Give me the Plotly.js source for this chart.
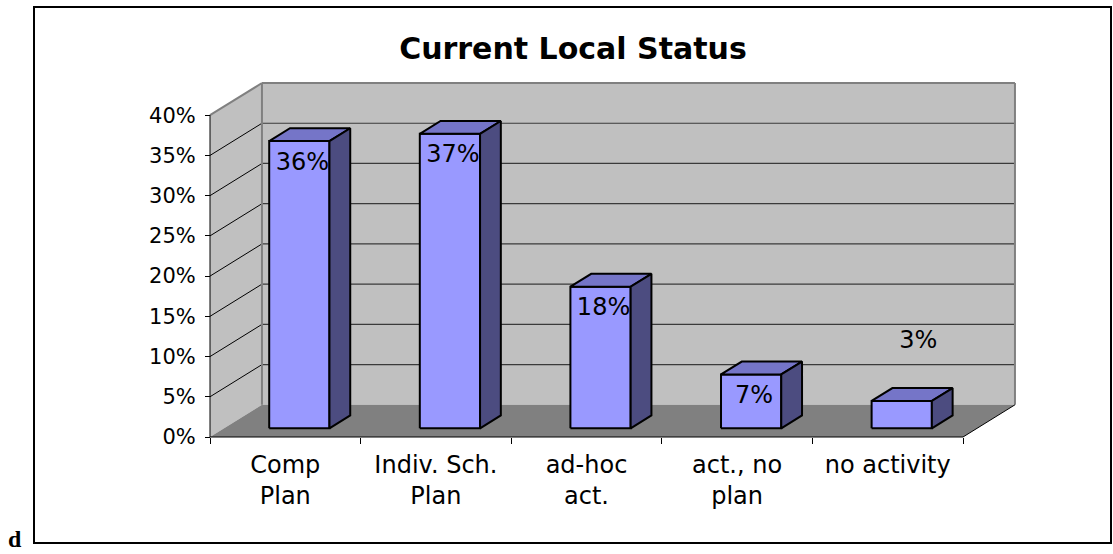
<!DOCTYPE html>
<html><head><meta charset="utf-8">
<script src="https://cdn.plot.ly/plotly-3.0.1.min.js"></script>
<style>html,body{margin:0;padding:0;background:#fff;} #chart{width:1113px;height:554px;}</style>
</head><body><div id="chart"></div>
<script>
// ---- data ----
const categories = ['Comp<br>Plan', 'Indiv. Sch.<br>Plan', 'ad-hoc<br>act.', 'act., no<br>plan', 'no activity'];
const values = [35.7, 36.6, 17.6, 6.7, 3.4];
const yTicks = [0, 5, 10, 15, 20, 25, 30, 35, 40];
const titleText = 'Current Local Status';
const cornerText = 'd';

// ---- geometry / style ----
const W = 1113, H = 554;
const PX0 = 210, PY0 = 437;          // pixel of front-left-bottom corner
const KX = 150.6, KY = 8.045;        // pixels per unit
const L = 200, R = 1025, T = 75, B = 445;
const DX = 0.345, DY = 4.0;          // 3-D depth offset in data units
const F0 = 0.27, FD = 0.4, HALF = 0.2;
const YMAX = yTicks[yTicks.length - 1];
const xr = [-0.5 - (PX0 - L) / KX, -0.5 + (R - PX0) / KX];
const yr = [-(B - PY0) / KY, (PY0 - T) / KY];
const pX = px => (px - L) / (R - L);
const pY = py => (B - py) / (B - T);
const FONT = 'DejaVu Sans';

const n = categories.length;
const x0 = -0.5, x1 = n - 0.5;

function poly(xs, ys, fill, lineColor, lineWidth) {
  return {type: 'scatter', mode: lineWidth ? 'lines' : 'none', x: xs, y: ys, fill: 'toself',
    fillcolor: fill, line: {color: lineColor || fill, width: lineWidth || 0}, hoverinfo: 'skip'};
}
function segs(list, color, width) {
  const xs = [], ys = [];
  list.forEach(s => { xs.push(s[0], s[2], null); ys.push(s[1], s[3], null); });
  return {type: 'scatter', mode: 'lines', x: xs, y: ys, line: {color: color, width: width}, hoverinfo: 'skip'};
}

const traces = [];
// walls and floor
traces.push(poly([x0 + DX, x1 + DX, x1 + DX, x0 + DX], [DY, DY, YMAX + DY, YMAX + DY], '#c0c0c0'));
traces.push(poly([x0, x0 + DX, x0 + DX, x0], [0, DY, YMAX + DY, YMAX], '#c0c0c0'));
traces.push(poly([x0, x1, x1 + DX, x0 + DX], [0, 0, DY, DY], '#808080'));
// gridlines
const inner = yTicks.filter(t => t > 0 && t < YMAX);
traces.push(segs(inner.map(t => [x0 + DX, t + DY, x1 + DX, t + DY]), '#3a3a3a', 1.2));
traces.push(segs(inner.map(t => [x0, t, x0 + DX, t + DY]), '#000000', 1));
// wall edges (gray)
traces.push(segs([
  [x0, YMAX, x0 + DX, YMAX + DY],
  [x0 + DX, YMAX + DY, x1 + DX, YMAX + DY],
  [x1 + DX, YMAX + DY, x1 + DX, DY],
  [x0 + DX, DY, x0 + DX, YMAX + DY]
], '#808080', 2));
// front edges (black)
traces.push(segs([
  [x0, 0, x0, YMAX],
  [x0, 0, x1, 0],
  [x1, 0, x1 + DX, DY]
], '#000000', 1));

// bars
const fr = {x: [], y: []}, tp = {x: [], y: []}, sd = {x: [], y: []};
const bdx = FD * DX, bdy = FD * DY;
values.forEach((v, i) => {
  const fx0 = i - HALF + F0 * DX, fx1 = i + HALF + F0 * DX;
  const by = F0 * DY, ty = v + F0 * DY;
  fr.x.push(fx0, fx1, fx1, fx0, fx0, null); fr.y.push(by, by, ty, ty, by, null);
  tp.x.push(fx0, fx1, fx1 + bdx, fx0 + bdx, fx0, null); tp.y.push(ty, ty, ty + bdy, ty + bdy, ty, null);
  sd.x.push(fx1, fx1 + bdx, fx1 + bdx, fx1, fx1, null); sd.y.push(by, by + bdy, ty + bdy, ty, by, null);
});
traces.push(poly(fr.x, fr.y, '#9999ff', '#000000', 2));
traces.push(poly(tp.x, tp.y, '#7575c8', '#000000', 2));
traces.push(poly(sd.x, sd.y, '#4c4c80', '#000000', 2));

// value labels
traces.push({
  type: 'scatter', mode: 'text', hoverinfo: 'skip', cliponaxis: false,
  x: values.map((v, i) => i + F0 * DX + (v >= 5 ? 0.02 : 0.11)),
  y: values.map(v => v >= 5 ? v + F0 * DY - 2.8 : v + F0 * DY + 7.3),
  text: values.map(v => Math.round(v) + '%'),
  textposition: 'middle center',
  textfont: {family: FONT, size: 24, color: '#000'}
});

const layout = {
  width: W, height: H,
  margin: {l: L, r: W - R, t: T, b: H - B, pad: 0},
  paper_bgcolor: '#ffffff', plot_bgcolor: 'rgba(0,0,0,0)',
  showlegend: false, hovermode: false,
  title: {text: titleText, x: 573 / W, xref: 'container', xanchor: 'center',
          y: 1 - 48 / H, yref: 'container', yanchor: 'middle',
          font: {family: FONT, size: 30, weight: 700, color: '#000'}},
  xaxis: {type: 'linear', range: xr, anchor: 'free', position: pY(PY0),
    tickmode: 'array', tickvals: categories.map((c, i) => i), ticktext: categories,
    ticks: '', showline: false, showgrid: false, zeroline: false,
    ticklabelstandoff: 11,
    tickfont: {family: FONT, size: 24, color: '#000'},
    minor: {tickmode: 'array', tickvals: categories.map((c, i) => i - 0.5).concat([n - 0.5]),
            ticks: 'outside', ticklen: 6, tickwidth: 1, tickcolor: '#000', showgrid: false}},
  yaxis: {type: 'linear', range: yr, anchor: 'free', position: pX(PX0), side: 'left',
    tickmode: 'array', tickvals: yTicks, ticktext: yTicks.map(t => t + '%'),
    ticks: 'outside', ticklen: 5, tickwidth: 1, tickcolor: '#000',
    ticklabelstandoff: 5,
    showline: false, showgrid: false, zeroline: false,
    tickfont: {family: FONT, size: 21, color: '#000'}},
  shapes: [{type: 'rect', xref: 'paper', yref: 'paper', x0: pX(34), x1: pX(1111), y0: pY(543), y1: pY(7),
            line: {color: '#000', width: 2}, fillcolor: 'rgba(0,0,0,0)', layer: 'above'}],
  annotations: [{text: cornerText, xref: 'paper', yref: 'paper', x: pX(15), y: pY(554),
                 xanchor: 'center', yanchor: 'bottom', showarrow: false,
                 font: {family: 'Liberation Serif', size: 24, weight: 700, color: '#000'}}]
};

Plotly.newPlot('chart', traces, layout, {staticPlot: true, displayModeBar: false});
</script></body></html>
